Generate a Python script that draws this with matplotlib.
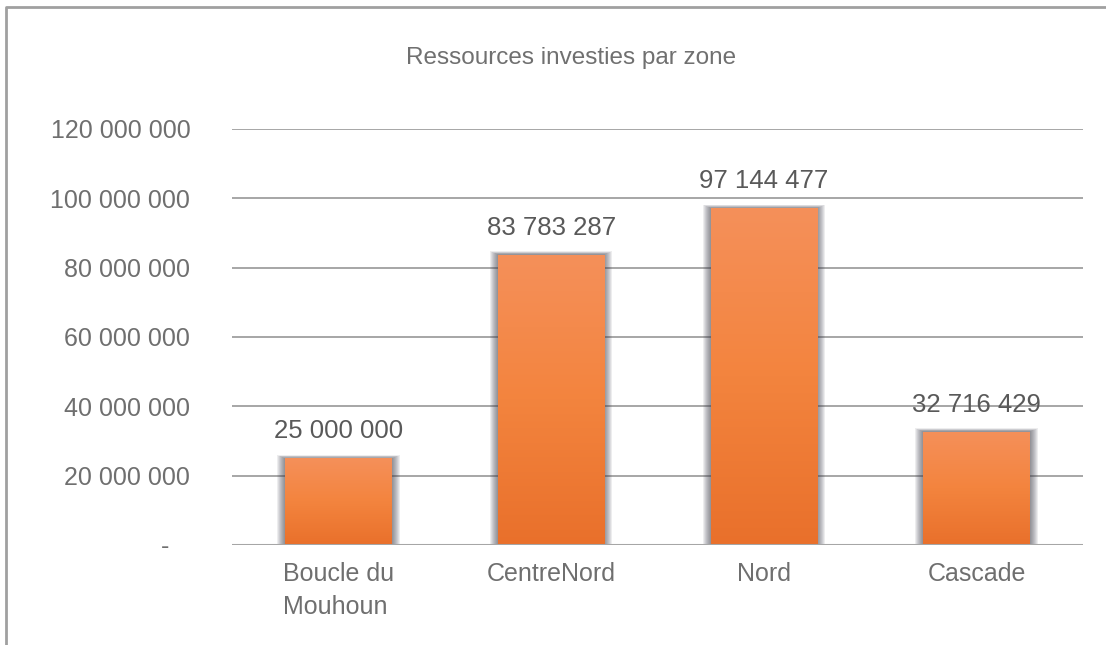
import matplotlib
matplotlib.use('Agg')
import matplotlib.pyplot as plt
import numpy as np
from matplotlib.colors import LinearSegmentedColormap
from matplotlib.patches import Rectangle
from matplotlib.lines import Line2D
from matplotlib.ticker import FuncFormatter

plt.rcParams['font.family'] = ['Liberation Sans', 'DejaVu Sans']

# data
zones = ['Boucle du\nMouhoun', 'CentreNord', 'Nord', 'Cascade']
ressources = [25000000, 83783287, 97144477, 32716429]
yticks = [0, 20000000, 40000000, 60000000, 80000000, 100000000, 120000000]


def fmt_space(v, pos=None):
    if v == 0:
        return '-   '
    return '{:,.0f}'.format(v).replace(',', ' ')


W, H = 1106, 645
fig = plt.figure(figsize=(W / 100, H / 100), dpi=100)
fig.patch.set_facecolor('white')
ax = fig.add_axes([232 / W, 1 - 545 / H, (1083 - 232) / W, (545 - 129) / H])

x = np.arange(len(zones))
bw = 0.5

# gridlines
for t in yticks[1:]:
    ax.axhline(t, color='#a6a6a6', lw=1.4, zorder=1)
ax.axhline(0, color='#a6a6a6', lw=2.2, zorder=5)

# shadows (soft gray halo around bars)
dx = 4.0 / 851
dy = 20000000 / 69.3
for xi, v in zip(x, ressources):
    for k in range(1, 9):
        r = Rectangle((xi - bw / 2 - k * dx, 0), bw + 2 * k * dx, v + k * dy * 0.4,
                      facecolor='#3a3a48', edgecolor='none', alpha=0.09, zorder=2)
        ax.add_patch(r)

# bars with vertical gradient
cmap = LinearSegmentedColormap.from_list('org', ['#e9702b', '#f3843e', '#f5905a'])
grad = np.linspace(0, 1, 256).reshape(-1, 1)
bars = ax.bar(x, ressources, width=bw, color='#f07f3c', edgecolor='none', zorder=3)
for b in bars:
    bx, by = b.get_x(), b.get_y()
    im = ax.imshow(grad, cmap=cmap, aspect='auto', origin='lower',
                   extent=[bx, bx + b.get_width(), by, by + b.get_height()], zorder=4)
    im.set_clip_path(b)
ax.set_xlim(-0.5, len(zones) - 0.5)
ax.set_ylim(0, 120000000)

# value labels
for xi, v in zip(x, ressources):
    ax.text(xi, v + 4300000, fmt_space(v), ha='center', va='bottom',
            fontsize=18.5, color='#595959', clip_on=False)

ax.set_yticks(yticks)
ax.yaxis.set_major_formatter(FuncFormatter(fmt_space))
ax.set_xticks(x)
ax.set_xticklabels(zones, multialignment='left', linespacing=1.5)
ax.tick_params(axis='y', length=0, pad=30, labelsize=18, labelcolor='#6f6f6f')
ax.tick_params(axis='x', length=0, pad=12, labelsize=18, labelcolor='#6f6f6f')
for s in ax.spines.values():
    s.set_visible(False)

fig.text(571 / W, 1 - 58 / H, 'Ressources investies par zone', ha='center', va='center',
         fontsize=17.5, color='#707070')

# outer frame (cut at right and bottom)
fig.add_artist(Line2D([6 / W, 6 / W, 1.0], [0.0, 1 - 7 / H, 1 - 7 / H],
                      transform=fig.transFigure, color='#a0a0a0', lw=2))

fig.savefig('out.png', dpi=100)
